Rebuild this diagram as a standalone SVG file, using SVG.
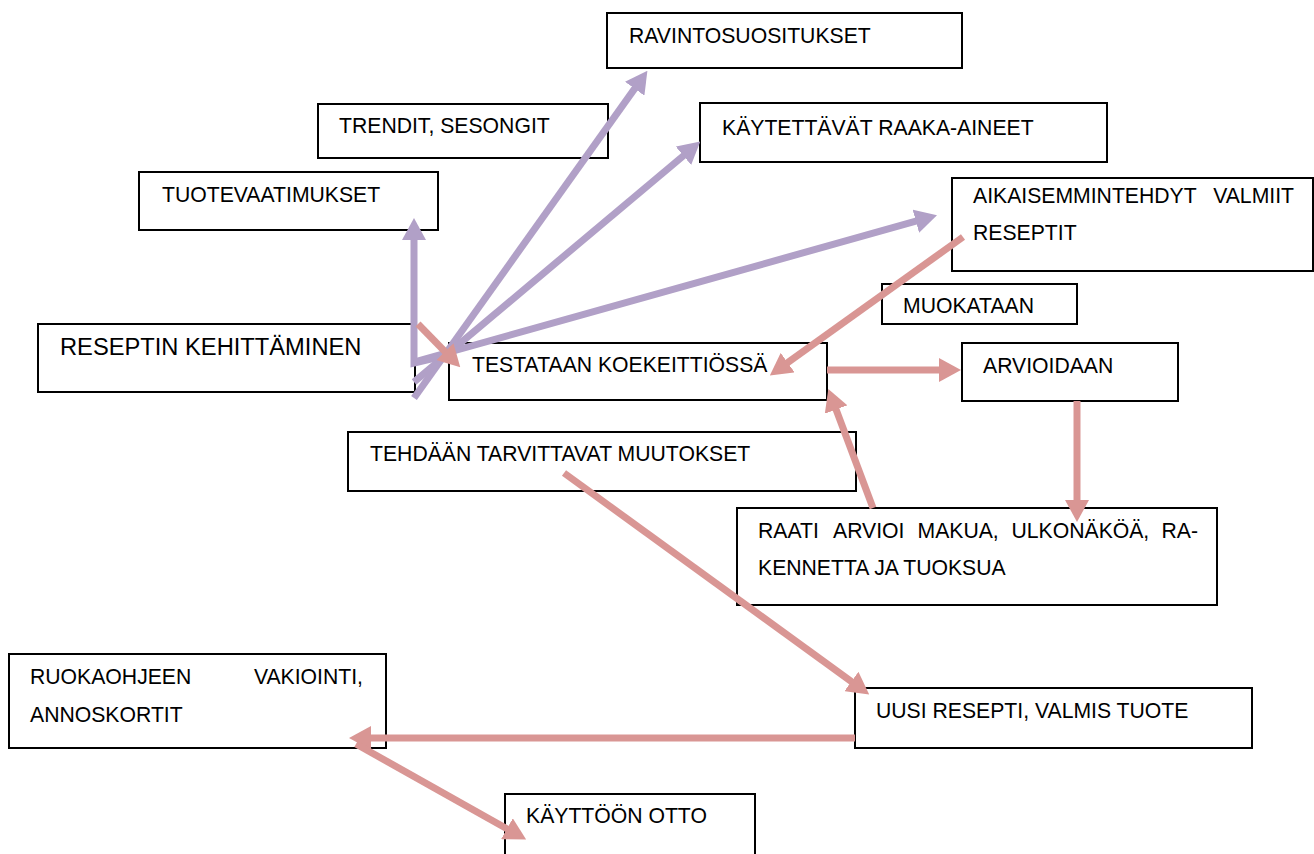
<svg xmlns="http://www.w3.org/2000/svg" width="1314" height="854" viewBox="0 0 1314 854">
<style>
.box{fill:#fff;stroke:#000;stroke-width:2}
.t{font-family:"Liberation Sans",Arial,sans-serif;font-size:21.2px;fill:#000}
.big{font-size:23.7px}
.cp{stroke:#b1a0c7;stroke-width:7;fill:none}
.ck{stroke:#d99694;stroke-width:7;fill:none}
</style>
<defs>
<marker id="ap" markerUnits="userSpaceOnUse" viewBox="0 0 22 24" markerWidth="22" markerHeight="24" refX="1" refY="12" orient="auto"><path d="M0,0 L22,12 L0,24 z" fill="#b1a0c7"/></marker>
<marker id="ak" markerUnits="userSpaceOnUse" viewBox="0 0 22 24" markerWidth="22" markerHeight="24" refX="1" refY="12" orient="auto"><path d="M0,0 L22,12 L0,24 z" fill="#d99694"/></marker>
</defs>
<rect width="1314" height="854" fill="#fff"/>
<g id="ravinto"><rect class="box" x="607" y="13" width="355" height="55"/><text class="t" x="629" y="43">RAVINTOSUOSITUKSET</text></g>
<g id="trendit"><rect class="box" x="318" y="104" width="290" height="54"/><text class="t" x="339" y="133">TRENDIT, SESONGIT</text></g>
<g id="kaytettavat"><rect class="box" x="700" y="103" width="407" height="59"/><text class="t" x="722" y="135">KÄYTETTÄVÄT RAAKA-AINEET</text></g>
<g id="tuotevaatimukset"><rect class="box" x="139" y="172" width="299" height="58"/><text class="t" x="162" y="202">TUOTEVAATIMUKSET</text></g>
<g id="aikaisemmin"><rect class="box" x="952" y="178" width="361" height="93"/><text class="t" x="973" y="203">AIKAISEMMINTEHDYT</text><text class="t" x="1294" y="203" text-anchor="end">VALMIIT</text><text class="t" x="973" y="240">RESEPTIT</text></g>
<g id="muokataan"><rect class="box" x="882" y="284" width="195" height="40"/><text class="t" x="903" y="313">MUOKATAAN</text></g>
<g id="reseptin"><rect class="box" x="38" y="324" width="377" height="68"/><text class="t big" x="60" y="355">RESEPTIN KEHITTÄMINEN</text></g>
<g id="testataan"><rect class="box" x="449" y="343" width="378" height="57"/><text class="t" x="472" y="372">TESTATAAN KOEKEITTIÖSSÄ</text></g>
<g id="arvioidaan"><rect class="box" x="962" y="343" width="216" height="58"/><text class="t" x="983" y="373">ARVIOIDAAN</text></g>
<g id="tehdaan"><rect class="box" x="348" y="432" width="508" height="59"/><text class="t" x="370" y="461">TEHDÄÄN TARVITTAVAT MUUTOKSET</text></g>
<g id="raati"><rect class="box" x="737" y="508" width="480" height="97"/><text class="t" y="538"><tspan x="758">RAATI</tspan><tspan x="833">ARVIOI</tspan><tspan x="917.5">MAKUA,</tspan><tspan x="1011.5">ULKONÄKÖÄ,</tspan><tspan x="1161.5">RA-</tspan></text><text class="t" x="758" y="575">KENNETTA JA TUOKSUA</text></g>
<g id="ruokaohjeen"><rect class="box" x="9" y="654" width="377" height="94"/><text class="t" x="30" y="684">RUOKAOHJEEN</text><text class="t" x="363" y="684" text-anchor="end">VAKIOINTI,</text><text class="t" x="30" y="722">ANNOSKORTIT</text></g>
<g id="uusi"><rect class="box" x="855" y="688" width="397" height="60"/><text class="t" x="876" y="718">UUSI RESEPTI, VALMIS TUOTE</text></g>
<g id="kayttoon"><rect class="box" x="505" y="794" width="250" height="70"/><text class="t" x="526" y="823">KÄYTTÖÖN OTTO</text></g>
<g id="connectors">
<line class="cp" x1="414" y1="398" x2="635.2" y2="87.9" marker-end="url(#ap)"/>
<line class="cp" x1="414" y1="382" x2="684.2" y2="155.1" marker-end="url(#ap)"/>
<line class="cp" x1="414" y1="362" x2="916.8" y2="220.9" marker-end="url(#ap)"/>
<polyline class="cp" points="452,354 414,363 414,239" marker-end="url(#ap)"/>
<line class="ck" x1="418" y1="324" x2="445.6" y2="352.3" marker-end="url(#ak)"/>
<line class="ck" x1="963" y1="237" x2="786.9" y2="363.2" marker-end="url(#ak)"/>
<line class="ck" x1="827" y1="370" x2="940" y2="370" marker-end="url(#ak)"/>
<line class="ck" x1="1077" y1="401" x2="1077" y2="501" marker-end="url(#ak)"/>
<line class="ck" x1="873" y1="508" x2="835.7" y2="408.6" marker-end="url(#ak)"/>
<line class="ck" x1="564" y1="473" x2="852.2" y2="682.1" marker-end="url(#ak)"/>
<line class="ck" x1="855" y1="738" x2="370" y2="738" marker-end="url(#ak)"/>
<line class="ck" x1="356" y1="744" x2="507.8" y2="829.2" marker-end="url(#ak)"/>
</g>
</svg>
